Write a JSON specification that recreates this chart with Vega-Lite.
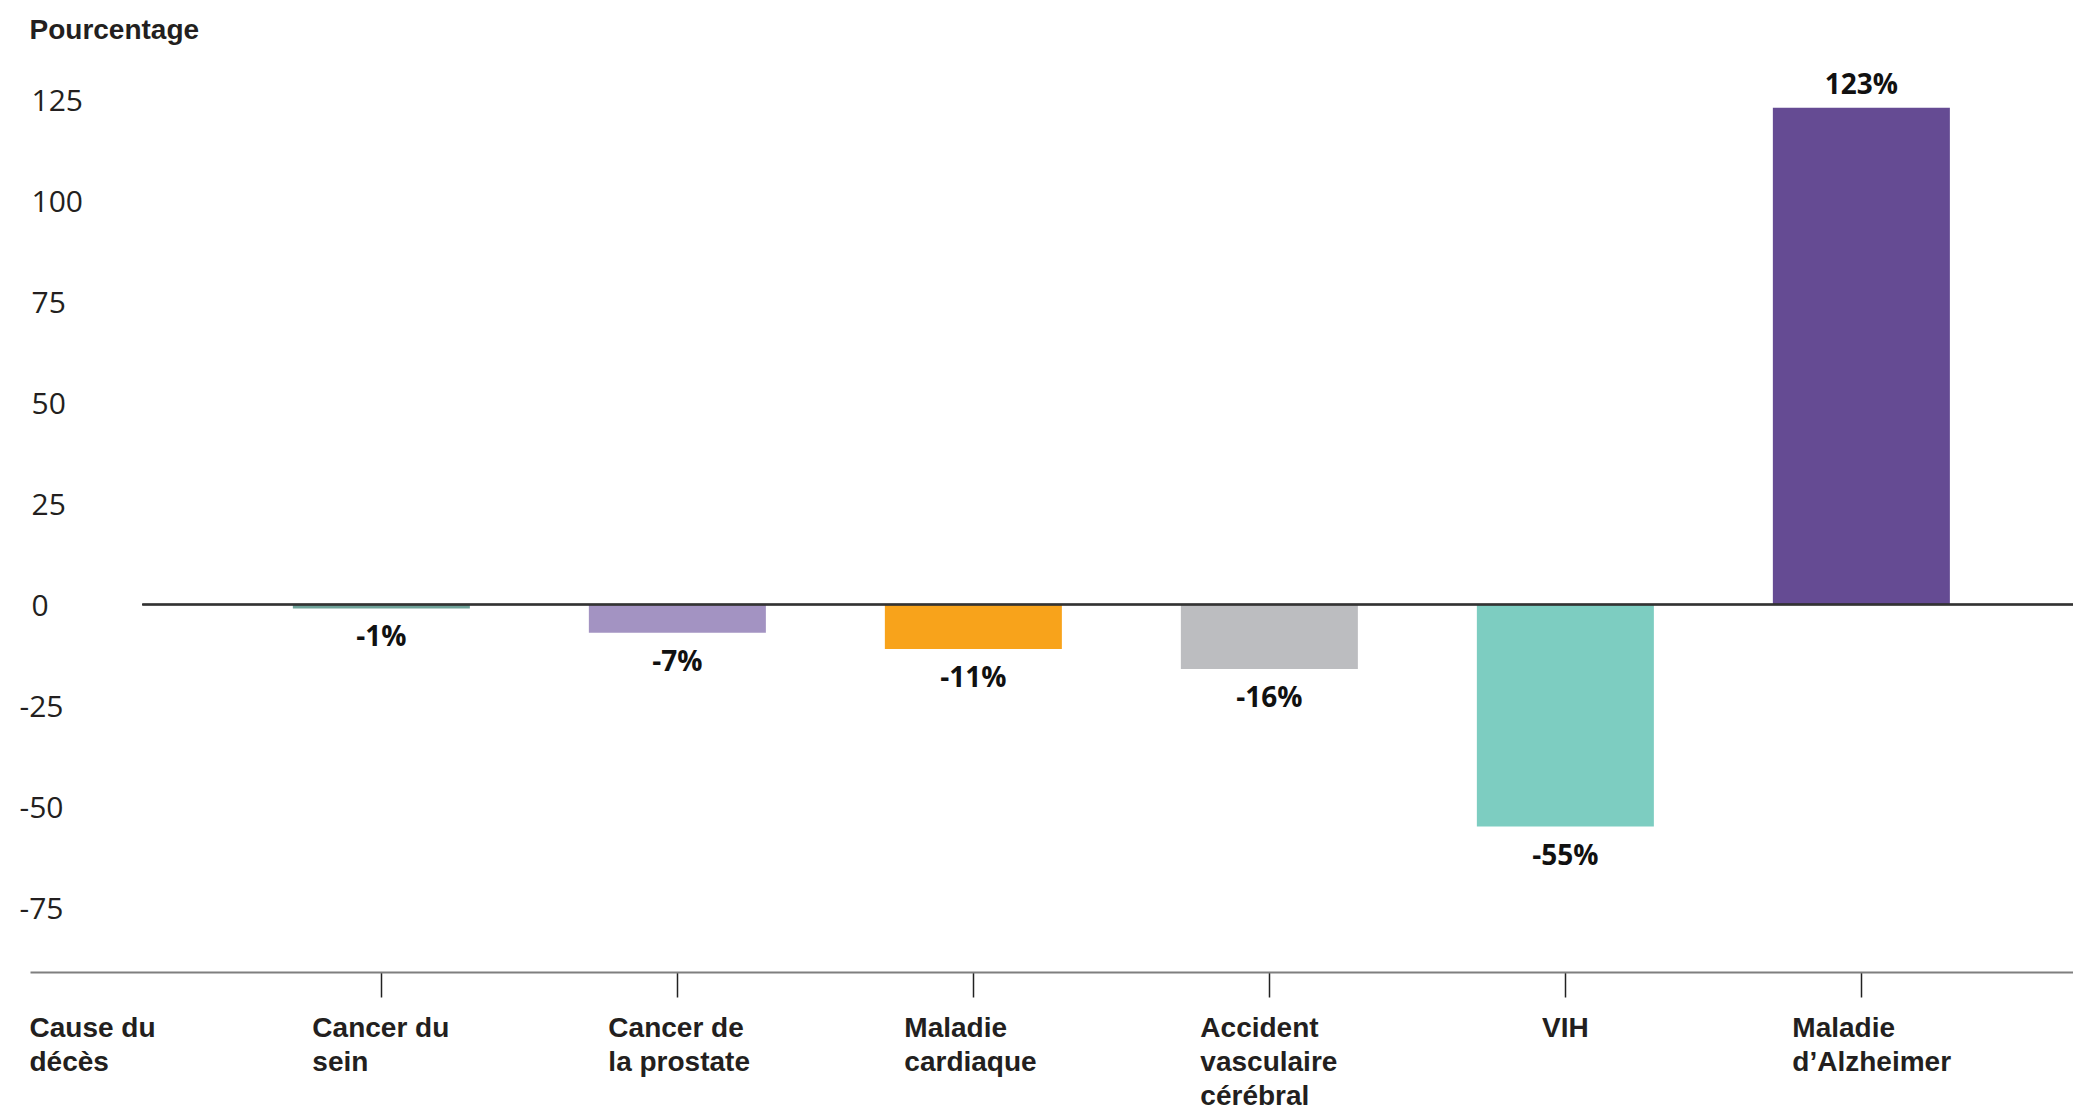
{
  "$schema": "https://vega.github.io/schema/vega-lite/v6.json",
  "autosize": "none",
  "padding": {"left": 30, "top": 39, "right": 0, "bottom": 140},
  "width": 2043,
  "height": 933,
  "background": "white",
  "config": {"view": {"stroke": null}},
  "data": {
    "values": [
      {"cause": "Cancer du sein", "value": -1, "label": "-1%"},
      {"cause": "Cancer de la prostate", "value": -7, "label": "-7%"},
      {"cause": "Maladie cardiaque", "value": -11, "label": "-11%"},
      {"cause": "Accident vasculaire cérébral", "value": -16, "label": "-16%"},
      {"cause": "VIH", "value": -55, "label": "-55%"},
      {"cause": "Maladie d’Alzheimer", "value": 123, "label": "123%"}
    ]
  },
  "resolve": {"scale": {"x": "independent"}},
  "layer": [
    {
      "encoding": {
        "x": {
          "field": "cause",
          "type": "nominal",
          "sort": null,
          "scale": {"paddingInner": 0.402, "paddingOuter": 0.652, "align": 0.681},
          "axis": {
            "domain": true,
            "domainColor": "#7f7f7f",
            "domainWidth": 2,
            "ticks": true,
            "tickColor": "#222222",
            "tickSize": 25,
            "tickWidth": 1.5,
            "grid": false,
            "labelAngle": 0,
            "labelFont": "Liberation Sans",
            "labelFontWeight": "bold",
            "labelFontSize": 28,
            "labelColor": "#231f20",
            "labelBaseline": "alphabetic",
            "labelPadding": 39,
            "labelLineHeight": 34,
            "labelOverlap": false,
            "labelBound": false,
            "labelLimit": 0,
            "labelAlign": {"condition": {"test": "datum.value === 'VIH'", "value": "center"}, "value": "left"},
            "labelOffset": {"condition": {"test": "datum.value === 'VIH'", "value": 0}, "value": -69},
            "labelExpr": "{'Cancer du sein':['Cancer du','sein'],'Cancer de la prostate':['Cancer de','la prostate'],'Maladie cardiaque':['Maladie','cardiaque'],'Accident vasculaire cérébral':['Accident','vasculaire','cérébral'],'VIH':'VIH','Maladie d’Alzheimer':['Maladie','d’Alzheimer']}[datum.label]",
            "title": ["Cause du", "décès"],
            "titleFont": "Liberation Sans",
            "titleFontWeight": "bold",
            "titleFontSize": 28,
            "titleColor": "#231f20",
            "titleLineHeight": 34,
            "titleAngle": 0,
            "titleAlign": "left",
            "titleBaseline": "alphabetic",
            "titleX": -1,
            "titleY": 64
          }
        },
        "y": {
          "field": "value",
          "type": "quantitative",
          "scale": {"domain": [-91, 140], "nice": false},
          "axis": {
            "values": [-75, -50, -25, 0, 25, 50, 75, 100, 125],
            "grid": false,
            "domain": false,
            "ticks": false,
            "tickSize": 0,
            "labelFont": "Open Sans",
            "labelFontSize": 30,
            "labelColor": "#231f20",
            "labelAlign": "left",
            "labelBaseline": "middle",
            "labelOffset": 2,
            "labelExpr": "'' + datum.value",
            "labelPadding": {"condition": {"test": "datum.value < 0", "value": 11}, "value": -1},
            "title": "Pourcentage",
            "titleFont": "Liberation Sans",
            "titleFontWeight": "bold",
            "titleFontSize": 28,
            "titleColor": "#231f20",
            "titleAngle": 0,
            "titleAlign": "left",
            "titleBaseline": "alphabetic",
            "titleX": -1,
            "titleY": -1
          }
        }
      },
      "layer": [
        {
          "mark": {"type": "bar"},
          "encoding": {
            "color": {
              "field": "cause",
              "type": "nominal",
              "legend": null,
              "scale": {
                "domain": ["Cancer du sein", "Cancer de la prostate", "Maladie cardiaque", "Accident vasculaire cérébral", "VIH", "Maladie d’Alzheimer"],
                "range": ["#6fa39a", "#a393c2", "#f8a31b", "#bcbdc0", "#7dcdc1", "#654b93"]
              }
            }
          }
        },
        {
          "transform": [{"filter": "datum.value > 0"}],
          "mark": {"type": "text", "font": "Open Sans", "fontWeight": "bold", "fontSize": 28, "color": "#111111", "baseline": "alphabetic", "align": "center", "dy": -14},
          "encoding": {"text": {"field": "label"}}
        },
        {
          "transform": [{"filter": "datum.value < 0"}],
          "mark": {"type": "text", "font": "Open Sans", "fontWeight": "bold", "fontSize": 28, "color": "#111111", "baseline": "alphabetic", "align": "center", "dy": 38},
          "encoding": {"text": {"field": "label"}}
        }
      ]
    },
    {
      "mark": {"type": "rule", "color": "#333333", "strokeWidth": 1.5},
      "encoding": {
        "x": {"datum": 0.055, "type": "quantitative", "scale": {"domain": [0, 1], "nice": false, "zero": false}, "axis": null},
        "x2": {"datum": 1},
        "y": {"datum": 0, "type": "quantitative"}
      }
    }
  ]
}
